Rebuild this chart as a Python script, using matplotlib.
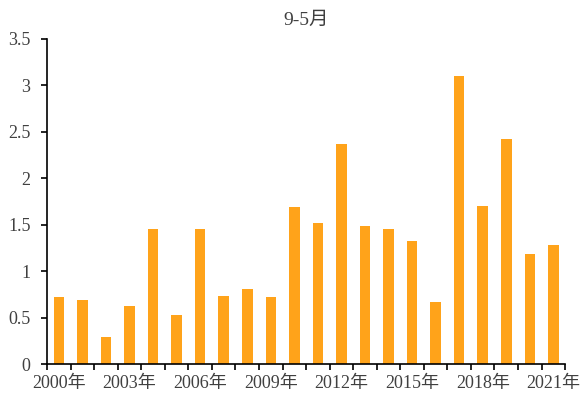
import numpy as np
import matplotlib.pyplot as plt
from matplotlib.ticker import FixedLocator

plt.rcParams['font.family'] = ['Liberation Serif', 'Noto Sans CJK SC']

years = list(range(2000, 2022))
values = [0.72, 0.69, 0.29, 0.63, 1.45, 0.53, 1.45, 0.73, 0.81, 0.72, 1.69,
          1.52, 2.37, 1.49, 1.45, 1.33, 0.67, 3.10, 1.70, 2.42, 1.19, 1.28]
title = '9-5月'
y_ticks = [0, 0.5, 1, 1.5, 2, 2.5, 3, 3.5]

fig = plt.figure(figsize=(5.82, 4.01), dpi=100)
ax = fig.add_axes([0.081, 0.092, 0.890, 0.811])

x = np.arange(len(years))
ax.bar(x, values, width=0.45, color='#FFA31A')

ax.set_xlim(-0.5, len(years) - 0.5)
ax.set_ylim(0, 3.5)

# labels every 3 years, tick marks at category boundaries
lab_idx = x[::3]
ax.set_xticks(lab_idx)
ax.set_xticklabels([f'{years[i]}年' for i in lab_idx], fontsize=13, color='#404040')
ax.tick_params(axis='x', which='major', length=0, pad=8)
ax.xaxis.set_minor_locator(FixedLocator(np.arange(-0.5, len(years), 1)))
ax.tick_params(axis='x', which='minor', length=4, width=1.2, direction='out')

ax.set_yticks(y_ticks)
ax.set_yticklabels(['0', '0.5', '1', '1.5', '2', '2.5', '3', '3.5'], fontsize=13, color='#404040')
ax.tick_params(axis='y', length=4, width=1.2, direction='out', pad=8)

for s in ['top', 'right']:
    ax.spines[s].set_visible(False)
for s in ['left', 'bottom']:
    ax.spines[s].set_linewidth(1.2)

ax.set_title(title, fontsize=14, color='#404040', pad=10)

fig.savefig('out.png', dpi=100)
